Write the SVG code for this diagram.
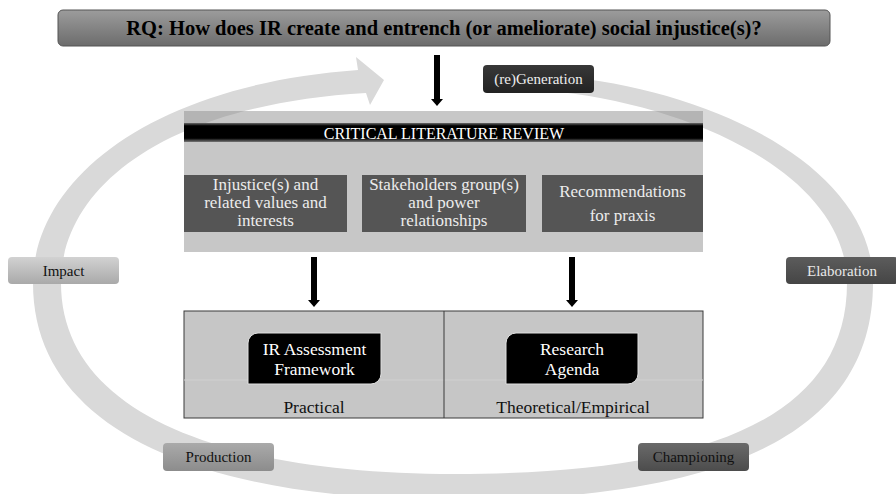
<svg xmlns="http://www.w3.org/2000/svg" width="896" height="494" viewBox="0 0 896 494">
<defs>
<linearGradient id="gTitle" x1="0" y1="0" x2="0" y2="1"><stop offset="0" stop-color="#9c9c9c"/><stop offset="1" stop-color="#6c6c6c"/></linearGradient>
<linearGradient id="gHead" x1="0" y1="0" x2="0" y2="1"><stop offset="0" stop-color="#6a6a6a"/><stop offset="0.15" stop-color="#000"/><stop offset="0.8" stop-color="#000"/><stop offset="1" stop-color="#777"/></linearGradient>
<linearGradient id="gImpact" x1="0" y1="0" x2="0" y2="1"><stop offset="0" stop-color="#d2d2d2"/><stop offset="1" stop-color="#a9a9a9"/></linearGradient>
<linearGradient id="gProd" x1="0" y1="0" x2="0" y2="1"><stop offset="0" stop-color="#aaaaaa"/><stop offset="1" stop-color="#8c8c8c"/></linearGradient>
<linearGradient id="gChamp" x1="0" y1="0" x2="0" y2="1"><stop offset="0" stop-color="#6a6a6a"/><stop offset="1" stop-color="#4c4c4c"/></linearGradient>
<linearGradient id="gElab" x1="0" y1="0" x2="0" y2="1"><stop offset="0" stop-color="#5c5c5c"/><stop offset="1" stop-color="#454545"/></linearGradient>
<linearGradient id="gGen" x1="0" y1="0" x2="0" y2="1"><stop offset="0" stop-color="#383838"/><stop offset="1" stop-color="#222"/></linearGradient>
<style>
text{font-family:"Liberation Serif","DejaVu Serif","Times New Roman",serif}
.lbl{font-size:15px;text-anchor:middle}
.inner{font-size:17px;text-anchor:middle;fill:#ececec}
.blk{font-size:17.5px;text-anchor:middle;fill:#fff}
.cap{font-size:17.5px;text-anchor:middle;fill:#111}
.shaft{stroke:#000;stroke-width:6;fill:none}
.head{fill:#000}
</style>
</defs>
<rect width="896" height="494" fill="#fff"/>

<!-- cycle ring -->
<g id="cycle">
<path d="M 560,76 C 710,90 873,165 873,283 C 873,445 700,500 455,500 C 200,500 33,430 33,283 C 33,180 150,85 358,70 L 356,57 L 384,80 L 370,105 L 366,93 C 160,105 61,190 61,283 C 61,410 215,474 455,474 C 690,474 847,425 847,283 C 847,178 700,108 560,92 Z" fill="#d9d9d9"/>
</g>

<!-- title -->
<g id="title">
<rect x="58" y="10" width="772" height="36" rx="5" fill="url(#gTitle)" stroke="#555" stroke-width="1"/>
<text x="444" y="35" font-size="20.5" font-weight="bold" text-anchor="middle" fill="#000">RQ: How does IR create and entrench (or ameliorate) social injustice(s)?</text>
</g>

<!-- critical literature review -->
<g id="clr">
<rect x="184" y="111" width="519" height="141" fill="#909090" fill-opacity="0.5"/>
<rect x="184" y="123" width="519" height="19" fill="url(#gHead)"/>
<text x="444" y="139" font-size="16" text-anchor="middle" fill="#fff">CRITICAL LITERATURE REVIEW</text>
</g>
<g id="injustice">
<rect x="184" y="175" width="163" height="57" fill="#555"/>
<text class="inner"><tspan x="265.5" y="190">Injustice(s) and</tspan><tspan x="265.5" y="208">related values and</tspan><tspan x="265.5" y="226">interests</tspan></text>
</g>
<g id="stakeholders">
<rect x="362" y="175" width="164" height="57" fill="#555"/>
<text class="inner"><tspan x="444" y="190">Stakeholders group(s)</tspan><tspan x="444" y="208">and power</tspan><tspan x="444" y="226">relationships</tspan></text>
</g>
<g id="recommendations">
<rect x="542" y="175" width="161" height="57" fill="#555"/>
<text class="inner"><tspan x="622.5" y="197">Recommendations</tspan><tspan x="622.5" y="221">for praxis</tspan></text>
</g>

<!-- outputs -->
<g id="outputs">
<rect x="184" y="311" width="519" height="107" fill="#c6c6c6" stroke="#3a3a3a" stroke-width="1"/>
<line x1="184" y1="380" x2="703" y2="380" stroke="#d0d0d0" stroke-width="1"/>
<line x1="444" y1="311" x2="444" y2="418" stroke="#3a3a3a" stroke-width="1"/>
</g>
<g id="framework">
<path d="M 258,333 H 381 V 374 A 10 10 0 0 1 371,384 H 248 V 343 A 10 10 0 0 1 258,333 Z" fill="#000" stroke="#e0e0e0" stroke-width="1"/>
<text class="blk"><tspan x="314.5" y="355">IR Assessment</tspan><tspan x="314.5" y="375">Framework</tspan></text>
<text x="314" y="413" class="cap">Practical</text>
</g>
<g id="agenda">
<path d="M 516,333 H 638 V 374 A 10 10 0 0 1 628,384 H 506 V 343 A 10 10 0 0 1 516,333 Z" fill="#000" stroke="#e0e0e0" stroke-width="1"/>
<text class="blk"><tspan x="572" y="355">Research</tspan><tspan x="572" y="375">Agenda</tspan></text>
<text x="573" y="413" class="cap">Theoretical/Empirical</text>
</g>

<!-- cycle labels -->
<g id="generation">
<rect x="483" y="65" width="111" height="28" rx="4" fill="url(#gGen)"/>
<text x="538.5" y="84" class="lbl" fill="#eee">(re)Generation</text>
</g>
<g id="elaboration">
<rect x="786" y="257" width="112" height="27" rx="4" fill="url(#gElab)"/>
<text x="842" y="276" class="lbl" fill="#e8e8e8">Elaboration</text>
</g>
<g id="championing">
<rect x="638" y="443" width="111" height="28" rx="4" fill="url(#gChamp)"/>
<text x="693.5" y="462" class="lbl" fill="#111">Championing</text>
</g>
<g id="production">
<rect x="163" y="443" width="111" height="28" rx="4" fill="url(#gProd)"/>
<text x="218.5" y="462" class="lbl" fill="#111">Production</text>
</g>
<g id="impact">
<rect x="8" y="257" width="111" height="27" rx="4" fill="url(#gImpact)"/>
<text x="63.5" y="276" class="lbl" fill="#111">Impact</text>
</g>

<!-- connectors -->
<g id="connectors">
<line x1="437" y1="55" x2="437" y2="99" class="shaft"/>
<path d="M431,99 L443,99 L437,106 Z" class="head"/>
<line x1="314" y1="257" x2="314" y2="300" class="shaft"/>
<path d="M308,300 L320,300 L314,307 Z" class="head"/>
<line x1="572" y1="257" x2="572" y2="300" class="shaft"/>
<path d="M566,300 L578,300 L572,307 Z" class="head"/>
</g>
</svg>
